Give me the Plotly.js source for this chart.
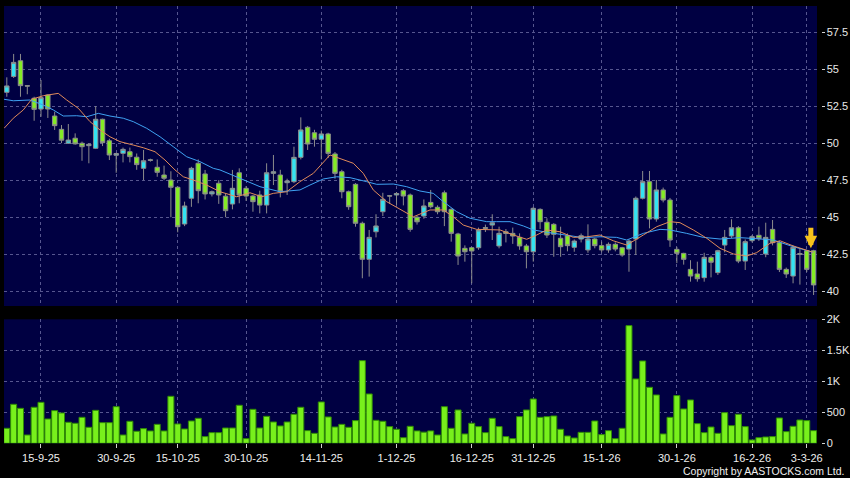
<!DOCTYPE html>
<html>
<head>
<meta charset="utf-8">
<script src="https://cdn.plot.ly/plotly-3.0.1.min.js"></script>
<style>
html,body{margin:0;padding:0;background:#000;}
#chart{width:850px;height:478px;}
</style>
</head>
<body>
<div id="chart"></div>
<script>
// ---- Data ----
const openP = [53.43,54.5,55.56,53.88,53.03,52.30,53.25,51.83,50.93,49.99,
50.33,49.99,49.83,49.65,51.61,50.16,49.18,49.31,49.42,49.05,
48.3,48.88,48.37,47.85,47.51,47.02,44.54,46.28,48.64,47.92,
46.57,47.29,46.42,45.89,48.0,46.95,46.43,46.5,45.82,47.96,
47.85,47.33,47.4,49.04,51.07,50.7,50.26,50.62,49.27,48.07,
46.72,47.22,44.59,42.16,44.02,45.37,46.45,46.5,46.79,46.5,
45.0,45.08,46.0,45.67,46.65,45.53,43.87,42.9,42.94,42.94,
44.3,44.47,43.06,44.02,43.91,43.64,43.06,42.67,45.53,44.66,
44.52,43.58,43.75,42.97,43.53,42.79,43.53,43.08,42.79,43.17,
42.94,42.85,43.53,46.28,47.4,44.88,46.84,46.16,42.83,42.56,
41.48,41.17,40.92,42.29,41.26,43.12,43.73,44.29,42.04,43.42,
43.78,42.52,44.18,43.28,41.48,41.03,42.55,42.74,42.74];
const highP = [54.44,56.02,56.02,53.9,53.13,54.26,53.3,52.12,51.22,51.29,
50.66,50.1,50.0,52.5,51.65,50.3,49.35,49.7,49.7,49.3,
49.54,48.95,48.9,48.48,48.1,47.1,46.05,48.4,48.9,48.19,
46.8,47.5,46.6,48.19,48.3,47.1,46.5,46.79,48.64,49.2,
48.2,47.6,49.76,51.74,51.16,50.9,50.85,50.7,49.4,48.2,
46.8,47.3,44.7,44.14,45.2,46.65,46.5,46.7,46.9,46.6,
45.1,46.2,46.84,45.8,46.8,45.6,43.95,43.1,43.0,44.3,
44.5,45.2,44.36,44.2,44.3,43.91,43.2,45.7,45.6,44.93,
44.6,44.36,43.9,43.5,43.9,44.52,43.6,43.35,43.3,43.3,
43.0,43.5,46.4,48.12,48.12,47.51,47.0,46.3,43.0,42.6,
42.1,42.0,42.6,42.4,42.8,44.14,44.86,44.4,43.5,43.8,
44.36,44.63,44.81,43.4,41.6,43.1,42.9,42.8,42.8];
const lowP = [53.13,54.4,53.13,53.3,51.51,51.78,51.7,50.89,50.0,49.95,
49.9,48.81,48.64,49.6,49.8,48.86,48.0,48.7,48.7,48.2,
47.5,48.75,47.73,47.5,45.0,43.98,44.4,45.7,45.94,46.2,
46.4,45.9,45.0,45.53,45.94,46.1,45.37,45.26,45.26,47.17,
46.34,46.5,47.3,48.9,49.54,49.76,48.9,49.0,47.6,46.28,
45.5,44.36,40.88,40.99,43.64,45.08,45.9,45.83,45.8,44.02,
44.5,44.9,45.6,45.2,44.4,43.35,41.78,42.0,40.54,42.8,
44.0,43.46,42.9,43.3,43.2,42.8,41.55,42.0,44.2,43.6,
42.33,42.33,42.7,42.67,43.3,42.6,42.9,42.63,42.6,42.7,
42.33,41.32,42.45,46.2,44.25,44.7,46.0,43.0,41.9,41.8,
40.65,40.65,40.65,40.94,41.1,42.63,43.6,41.9,41.44,43.3,
43.4,42.3,43.1,41.3,40.9,40.54,40.45,41.3,39.75];
const closeP = [53.86,55.45,53.88,53.85,52.28,53.07,52.30,51.18,50.2,50.21,
49.95,49.76,49.92,51.61,50.03,49.2,49.3,49.58,49.09,48.55,
48.81,48.84,48.03,47.63,47.02,44.36,45.76,48.3,46.79,46.57,
46.72,46.5,45.44,46.95,46.5,46.43,46.05,45.82,48.0,48.07,
46.72,47.45,49.04,50.89,49.94,50.26,50.62,49.31,47.96,46.72,
45.71,44.59,42.16,43.64,44.41,46.21,46.43,46.6,46.43,44.18,
44.69,45.76,45.71,45.37,45.37,43.91,42.38,42.67,42.72,44.14,
44.25,44.63,43.91,43.9,43.73,43.06,42.67,45.6,44.7,43.8,
43.85,43.01,43.08,43.39,43.75,43.53,43.08,42.79,43.17,42.85,
42.45,43.39,46.28,47.4,44.88,46.84,46.16,43.46,42.56,42.16,
41.03,40.85,42.29,41.96,42.74,43.64,44.29,42.04,43.35,43.69,
43.55,43.64,43.28,41.48,41.17,42.97,42.5,41.48,40.43];
const volume = [242,629,564,134,581,661,392,527,489,339,
323,419,258,532,333,333,591,134,355,194,
237,199,306,199,758,312,231,360,403,108,
172,172,247,247,613,75,548,247,435,344,
280,344,468,581,204,161,667,425,263,306,
258,366,1333,796,371,355,269,226,91,274,
200,180,200,134,591,242,538,151,323,269,
172,403,269,108,75,430,538,715,419,430,
441,226,118,86,177,177,360,140,204,75,
242,1898,1038,1328,903,780,151,419,769,554,
699,317,172,263,161,495,285,468,269,54,
91,102,108,409,188,274,376,366,204];

// moving averages (position in trading-day index, value)
const maShortIdx = [-0.4,0.95,2.41,3.64,5.34,7.53,8.76,10.46,12.17,13.63,15.09,16.56,18.5,19.96,21.68,23.14,24.6,25.82,27.28,29.24,31.18,33.63,35.57,37.28,38.98,40.94,42.88,44.83,47.27,48.74,50.68,52.14,53.6,55.56,57.51,59.46,61.9,63.84,65.3,66.77,68.73,70.67,72.14,74.08,76.04,77.5,78.97,80.91,82.86,84.82,86.76,88.71,90.67,93.1,95.06,97.0,98.46,100.41,102.37,104.32,106.26,108.22,109.68,111.63,113.09,115.04,117.0,118.0];
const maShortVal = [51.0,51.68,52.24,52.96,53.2,53.36,52.91,52.35,51.45,50.89,50.43,50.1,49.87,49.69,49.42,48.86,48.19,47.73,47.51,47.17,46.72,46.38,46.65,46.38,46.61,46.72,47.4,47.96,49.2,48.98,48.64,47.96,46.84,46.05,45.53,45.03,45.49,45.49,45.03,44.47,44.18,44.18,44.14,43.8,43.51,43.8,44.14,44.02,43.64,43.68,43.8,43.41,43.12,43.8,44.36,44.7,44.63,44.14,43.58,42.9,42.52,42.38,42.61,43.24,43.41,43.06,42.79,42.62];
const maLongIdx = [-0.4,0.95,3.39,5.34,6.8,8.26,10.22,11.69,13.38,15.09,17.04,18.5,20.46,22.41,24.35,26.31,28.26,30.2,31.18,34.11,37.03,39.96,42.88,44.34,46.29,48.25,50.2,52.64,54.1,56.53,58.49,60.43,62.38,63.84,65.8,67.75,70.19,71.65,73.6,75.55,77.01,79.45,81.89,84.32,86.76,89.2,90.67,93.1,95.54,97.0,99.44,101.87,104.32,107.25,109.68,112.12,114.56,117.0,118.0];
const maLongVal = [52.96,52.86,52.91,52.57,52.24,51.83,51.85,51.78,52.01,51.83,51.68,51.45,51.0,50.43,49.76,49.08,48.75,48.3,48.19,47.63,47.06,46.72,46.84,47.17,47.58,47.73,47.67,47.4,47.22,47.24,47.06,46.77,46.61,46.05,45.37,44.93,44.7,44.7,44.7,44.41,44.14,43.95,43.8,43.62,43.68,43.64,43.46,43.91,44.18,44.14,43.91,43.64,43.53,43.62,43.55,43.46,43.08,42.75,42.62];

const tickIdx = [5,16,25,35,46,57,68,77,87,98,109,117];
const tickLabels = ['15-9-25','30-9-25','15-10-25','30-10-25','14-11-25','1-12-25','16-12-25','31-12-25','15-1-26','30-1-26','16-2-26','3-3-26'];
const priceTicks = [40,42.5,45,47.5,50,52.5,55,57.5];
const volTicks = [0,500,1000,1500,2000];
const volTickText = ['0','500','1K','1.5K','2K'];
const lastMarker = {idx: 117.6, price: 42.9};

// ---- Chart ----
const idx = closeP.map((_, i) => i);
const GRID = '#56568f';
const FONT = 'Liberation Sans, Arial, sans-serif';

const traces = [
  {
    type: 'candlestick', x: idx, open: openP, high: highP, low: lowP, close: closeP,
    xaxis: 'x', yaxis: 'y', whiskerwidth: 0, hoverinfo: 'none',
    increasing: {fillcolor: '#33e3f2', line: {color: '#8c8c8c', width: 1}},
    decreasing: {fillcolor: '#84ec25', line: {color: '#8c8c8c', width: 1}}
  },
  {type: 'scatter', mode: 'lines', x: maLongIdx, y: maLongVal, xaxis: 'x', yaxis: 'y',
   line: {color: '#3fa2f2', width: 1}, hoverinfo: 'none'},
  {type: 'scatter', mode: 'lines', x: maShortIdx, y: maShortVal, xaxis: 'x', yaxis: 'y',
   line: {color: '#e08a5a', width: 1}, hoverinfo: 'none'},
  {type: 'bar', x: idx, y: volume, xaxis: 'x2', yaxis: 'y2', hoverinfo: 'none',
   marker: {color: '#78f01c', line: {color: '#2f8a06', width: 1}}}
];

const xDom = [4/850, 817/850];
const layout = {
  width: 850, height: 478,
  margin: {l: 0, r: 0, t: 0, b: 0},
  paper_bgcolor: '#000000', plot_bgcolor: '#000042',
  showlegend: false, bargap: 0.12, boxgap: 0.08,
  font: {family: FONT, color: '#e8e8e8', size: 11},
  xaxis: {domain: xDom, range: [-0.41, 118.5], anchor: 'y', tickvals: tickIdx,
    showticklabels: false, ticks: '', showgrid: true, gridcolor: GRID, griddash: 'dot',
    zeroline: false, showline: false, rangeslider: {visible: false}, fixedrange: true},
  yaxis: {domain: [1-306/478, 1-6/478], range: [39.008, 59.255], anchor: 'free',
    position: 820.5/850, side: 'right', tickvals: priceTicks, ticks: 'outside', ticklen: 3,
    tickcolor: '#d0d0d0', tickfont: {size: 11, color: '#e8e8e8'}, showgrid: true,
    gridcolor: GRID, griddash: 'dot', zeroline: false, showline: false, fixedrange: true},
  xaxis2: {domain: xDom, range: [-0.41, 118.5], anchor: 'y2', matches: 'x',
    tickvals: tickIdx, ticktext: tickLabels, ticks: 'outside', ticklen: 4,
    tickcolor: '#d0d0d0', tickfont: {size: 11, color: '#eeeeee'}, showgrid: true,
    gridcolor: GRID, griddash: 'dot', zeroline: false, showline: false, fixedrange: true},
  yaxis2: {domain: [1-443.3/478, 1-319.3/478], range: [0, 2000], anchor: 'free',
    position: 820.5/850, side: 'right', tickvals: volTicks, ticktext: volTickText,
    ticks: 'outside', ticklen: 3, tickcolor: '#d0d0d0', tickfont: {size: 11, color: '#e8e8e8'},
    showgrid: true, gridcolor: GRID, griddash: 'dot', zeroline: false, showline: false, fixedrange: true},
  annotations: [
    {xref: 'x', yref: 'y', x: lastMarker.idx, y: lastMarker.price, ax: 0, ay: -22,
     showarrow: true, arrowhead: 2, arrowsize: 0.5, arrowwidth: 5, arrowcolor: '#f7c21c', text: ''},
    {xref: 'paper', yref: 'paper', x: 846/850, y: 1-471/478, xanchor: 'right', yanchor: 'middle',
     showarrow: false, text: 'Copyright by AASTOCKS.com Ltd.', font: {size: 10.5, color: '#f0f0f0'}}
  ]
};

Plotly.newPlot('chart', traces, layout, {staticPlot: true, displayModeBar: false});
</script>
</body>
</html>
